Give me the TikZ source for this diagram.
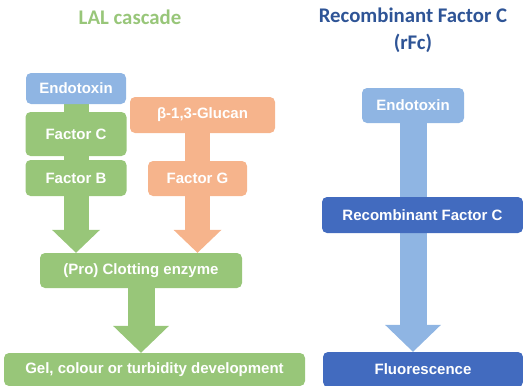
\documentclass[tikz,border=0pt]{standalone}
\usepackage{fontspec}
\setmainfont{Liberation Sans}
\newfontfamily\titelfont{Carlito}
\usetikzlibrary{arrows.meta,backgrounds}

\definecolor{lalgruen}{RGB}{152,198,121}
\definecolor{endoblau}{RGB}{143,181,227}
\definecolor{glucanorange}{RGB}{246,180,140}
\definecolor{rfcblau}{RGB}{66,107,191}
\definecolor{titelblau}{RGB}{46,84,150}

\tikzset{
    kasten/.style={rounded corners=5pt, inner sep=0pt, align=center, text=white,
        font=\bfseries\fontsize{15}{17}\selectfont},
    titel/.style={align=center, font=\titelfont\bfseries\fontsize{20.8}{27}\selectfont},
    pfeil/.style={line width=27pt, -{Triangle[width=56pt,length=27pt,line width=0pt]}},
    pfeilklein/.style={line width=25pt, -{Triangle[width=48pt,length=23pt,line width=0pt]}}
}

\begin{document}
\begin{tikzpicture}[x=1pt, y=-1pt]
        \useasboundingbox (0,0) rectangle (523,386);
        % Titel
        \node[titel, text=lalgruen]     (lalTitel) at (130,17)   {LAL cascade};
        \node[titel, text=titelblau]    (rfcTitel) at (413,30.5) {Recombinant Factor C\\(rFc)};
        % LAL-Kaskade
        \node[kasten, fill=endoblau, minimum width=100pt, minimum height=31pt]
            (endoA)     at (76,88.5)    {Endotoxin};
        \node[kasten, fill=lalgruen, minimum width=101pt, minimum height=44pt]
            (faktorC)   at (76,134)     {Factor C};
        \node[kasten, fill=lalgruen, minimum width=101pt, minimum height=36pt]
            (faktorB)   at (76,178)     {Factor B};
        \node[kasten, fill=glucanorange, minimum width=145pt, minimum height=36pt]
            (glucan)    at (202.5,115)  {β-1,3-Glucan};
        \node[kasten, fill=glucanorange, minimum width=99pt, minimum height=35pt]
            (faktorG)   at (197.5,178.5) {Factor G};
        \node[kasten, fill=lalgruen, minimum width=202pt, minimum height=35pt]
            (gerinnung) at (141,270.5)  {(Pro) Clotting enzyme};
        \node[kasten, fill=lalgruen, minimum width=301pt, minimum height=33pt]
            (gel)       at (154.5,369.5) {Gel, colour or turbidity development};
        % rFc
        \node[kasten, fill=endoblau, minimum width=102pt, minimum height=35pt]
            (endoB)     at (413,105.5)  {Endotoxin};
        \node[kasten, fill=rfcblau, minimum width=201pt, minimum height=36pt]
            (rfc)       at (422.5,215)  {Recombinant Factor C};
        \node[kasten, fill=rfcblau, minimum width=200pt, minimum height=35pt]
            (fluor)     at (423,369.5)  {Fluorescence};
        % Pfeile
        \begin{scope}[on background layer]
            \draw[pfeilklein, lalgruen]     (endoA.south) -- (endoA.south |- gerinnung.north);
            \draw[pfeilklein, glucanorange] (glucan.south -| faktorG) -- (faktorG.south |- gerinnung.north);
            \draw[pfeil, lalgruen]          (gerinnung.south) -- (gerinnung.south |- gel.north);
            \draw[pfeil, endoblau]          (endoB.south) -- (endoB.south |- fluor.north);
        \end{scope}
\end{tikzpicture}
\end{document}
